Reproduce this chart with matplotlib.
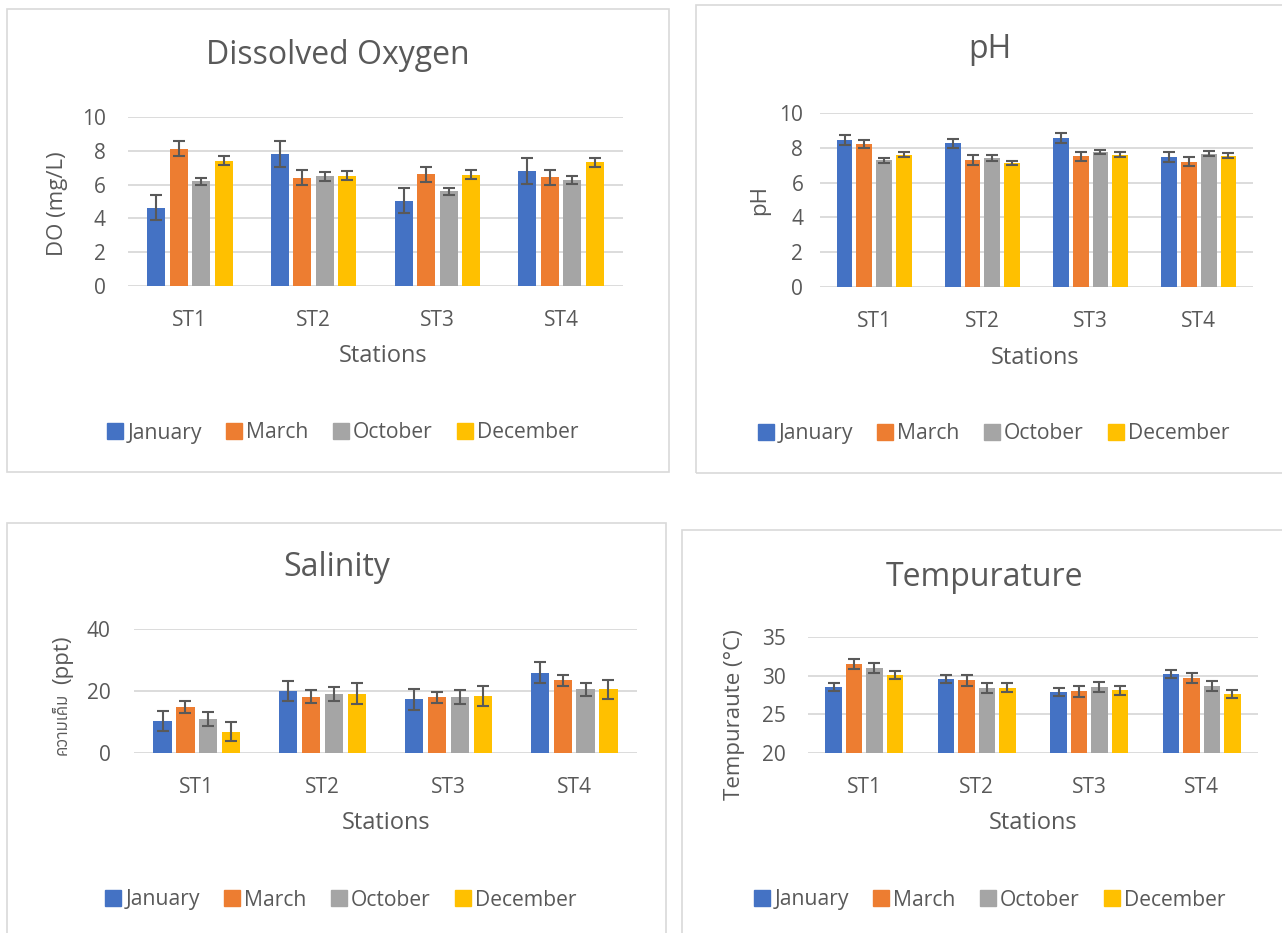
import numpy as np
import matplotlib
matplotlib.use("Agg")
import matplotlib.pyplot as plt
from matplotlib import font_manager
from matplotlib.ft2font import FT2Font
from matplotlib.patches import Rectangle, Patch

# look for an installed family that has Thai glyphs
thai = []
for f in font_manager.fontManager.ttflist:
    try:
        if ord('ค') in FT2Font(f.fname).get_charmap():
            thai.append(f.name)
    except Exception:
        pass

plt.rcParams['font.family'] = ['Open Sans', 'DejaVu Sans'] + sorted(set(thai))[:1]

# Data
stations = ['ST1', 'ST2', 'ST3', 'ST4']
months = ['January', 'March', 'October', 'December']
colors = ['#4472C4', '#ED7D31', '#A5A5A5', '#FFC000']

do_mean = [[4.63, 7.79, 5.05, 6.82],
           [8.13, 6.41, 6.61, 6.43],
           [6.19, 6.49, 5.60, 6.27],
           [7.42, 6.53, 6.59, 7.32]]
do_err = [[0.75, 0.77, 0.75, 0.77],
          [0.43, 0.45, 0.43, 0.43],
          [0.20, 0.25, 0.22, 0.22],
          [0.25, 0.27, 0.26, 0.26]]

ph_mean = [[8.47, 8.26, 8.55, 7.48],
           [8.21, 7.29, 7.52, 7.21],
           [7.29, 7.42, 7.75, 7.67],
           [7.61, 7.14, 7.61, 7.54]]
ph_err = [[0.29, 0.25, 0.29, 0.27],
          [0.25, 0.27, 0.25, 0.25],
          [0.15, 0.15, 0.13, 0.13],
          [0.15, 0.13, 0.15, 0.15]]

sal_mean = [[10.3, 20.0, 17.3, 25.9],
            [14.9, 18.2, 18.0, 23.5],
            [11.0, 19.1, 18.0, 20.5],
            [6.9, 19.1, 18.5, 20.5]]
sal_err = [[3.3, 3.3, 3.3, 3.3],
           [2.0, 2.0, 1.8, 1.8],
           [2.3, 2.3, 2.2, 2.1],
           [3.1, 3.4, 3.2, 3.2]]

temp_mean = [[28.5, 29.6, 27.9, 30.2],
             [31.5, 29.4, 28.0, 29.7],
             [31.0, 28.4, 28.5, 28.7],
             [30.1, 28.45, 28.1, 27.6]]
temp_err = [[0.5, 0.5, 0.5, 0.5],
            [0.7, 0.7, 0.7, 0.7],
            [0.6, 0.6, 0.65, 0.65],
            [0.5, 0.6, 0.6, 0.55]]

W, H = 1282, 933
TXT = '#595959'
GRID = '#D9D9D9'

fig = plt.figure(figsize=(W / 100, H / 100), dpi=100)


def px(x, y):
    return x / W, 1 - y / H


def box(x0, y0, x1, y1):
    fig.patches.append(Rectangle(px(x0, y1), (x1 - x0) / W, (y1 - y0) / H,
                                 transform=fig.transFigure, fill=False,
                                 edgecolor=GRID, lw=1.2))


def panel(rect, means, errs, ylim, yticks, title, ylabel, pos, ypad):
    x0, y0, x1, y1 = rect
    ax = fig.add_axes([x0 / W, 1 - y1 / H, (x1 - x0) / W, (y1 - y0) / H])
    x = np.arange(len(stations))
    slot, bw = 0.182, 0.145
    for i in range(len(months)):
        ax.bar(x + (i - 1.5) * slot, means[i], bw, color=colors[i],
               yerr=errs[i], capsize=4.5,
               error_kw=dict(ecolor='#595959', elinewidth=1.5, capthick=1.5),
               zorder=3)
    ax.set_xlim(-0.5, 3.5)
    ax.set_ylim(*ylim)
    ax.set_yticks(yticks)
    ax.set_xticks(x)
    ax.set_xticklabels(stations)
    for s in ax.spines.values():
        s.set_visible(False)
    ax.grid(axis='y', color=GRID, lw=1.3, zorder=0)
    ax.set_axisbelow(True)
    ax.tick_params(axis='both', length=0, labelsize=15, colors=TXT)
    ax.tick_params(axis='x', pad=17)
    ax.tick_params(axis='y', pad=ypad)
    (tx, ty), (lx, ly), (gx, gy) = pos
    fig.text(*px(tx, ty), title, ha='center', va='center', fontsize=23, color=TXT)
    fig.text(*px(lx, ly), 'Stations', ha='center', va='center', fontsize=17, color=TXT)
    if ylabel is not None:
        (yx, yy), txt = ylabel
        fig.text(*px(yx, yy), txt, ha='center', va='center', fontsize=16,
                 color=TXT, rotation=90)
    handles = [Patch(color=c) for c in colors]
    fig.legend(handles, months, loc='center', bbox_to_anchor=px(gx, gy),
               ncol=4, frameon=False, fontsize=15.2, handlelength=0.75,
               handleheight=0.75, handletextpad=0.2, columnspacing=1.15,
               labelcolor=TXT)
    return ax


box(7, 9, 669, 472)
box(696, 5, 1290, 473)
box(7, 523, 666, 940)
box(682, 530, 1290, 940)

panel((128, 117, 623, 286), do_mean, do_err, (0, 10), [0, 2, 4, 6, 8, 10],
      'Dissolved Oxygen', ((57, 204), 'DO (mg/L)'),
      ((338, 55), (383, 356), (343, 433)), 16)
panel((820, 113, 1253, 287), ph_mean, ph_err, (0, 10), [0, 2, 4, 6, 8, 10],
      'pH', ((760, 200), 'pH'),
      ((990, 50), (1035, 358), (994, 434)), 12)
panel((134, 629, 637, 753), sal_mean, sal_err, (0, 40), [0, 20, 40],
      'Salinity', None,
      ((337, 567), (386, 823), (341, 900)), 17)
# salinity y label: Thai word drawn smaller than the unit
fig.text(*px(63, 724), 'ความเค็ม', ha='center', va='center', fontsize=12,
         color=TXT, rotation=90)
fig.text(*px(63, 660), '(ppt)', ha='center', va='center', fontsize=16,
         color=TXT, rotation=90)
panel((808, 637, 1258, 753), temp_mean, temp_err, (20, 35), [20, 25, 30, 35],
      'Tempurature', ((734, 715), 'Tempuraute (°C)'),
      ((985, 577), (1033, 823), (990, 900)), 16)

fig.savefig('out.png', dpi=100)
